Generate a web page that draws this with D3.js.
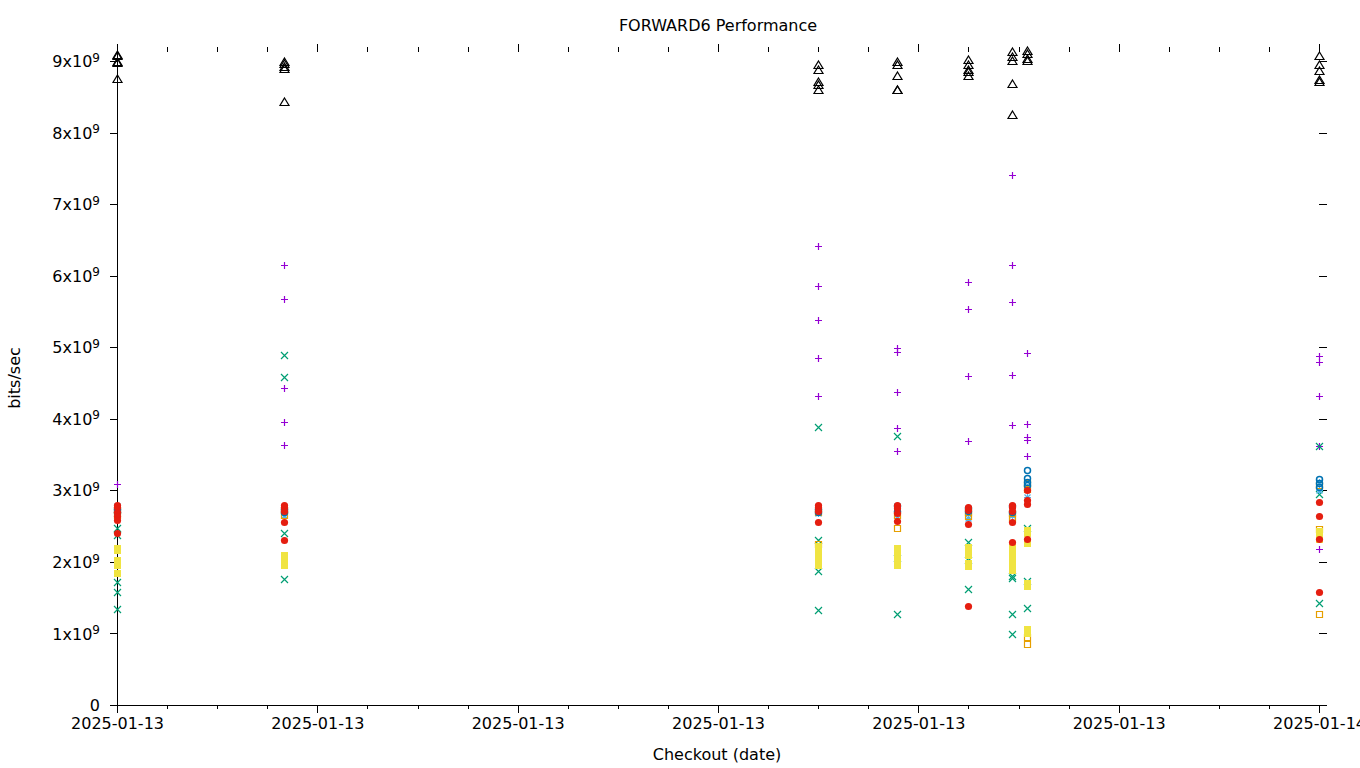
<!DOCTYPE html>
<html>
<head>
<meta charset="utf-8">
<script src="https://cdn.jsdelivr.net/npm/d3@7"></script>
<style>
  html, body { margin: 0; padding: 0; background: #ffffff; }
  svg { display: block; font-family: "DejaVu Sans", sans-serif; }
</style>
</head>
<body>
<svg id="chart" width="1360" height="768"></svg>
<script>
// ---------- DATA ----------
const checkoutTimes = [
  "2025-01-13T18:00:00", "2025-01-13T18:50:00", "2025-01-13T21:30:00", "2025-01-13T21:53:30",
  "2025-01-13T22:15:00", "2025-01-13T22:28:00", "2025-01-13T22:32:30", "2025-01-14T00:00:00"
];
// values in units of 1e9 bits/sec, one list per checkout
const purplePlus = [[3.09], [6.15, 5.67, 4.43, 3.95, 3.63], [6.41, 5.85, 5.38, 4.85, 4.32], [4.99, 4.93, 4.37, 3.87, 3.55],
  [5.91, 5.54, 4.60, 3.69], [7.40, 6.15, 5.63, 4.61, 3.91], [4.92, 3.93, 3.75, 3.70, 3.48], [4.88, 4.79, 4.32, 3.62, 2.18]];
const greenCross = [[2.47, 2.37, 1.72, 1.58, 1.34], [4.89, 4.58, 2.40, 1.76], [3.88, 2.30, 1.87, 1.33], [3.76, 2.05, 1.27],
  [2.28, 2.03, 1.62], [1.80, 1.78, 1.27, 0.99], [2.47, 1.73, 1.35], [3.62, 2.95, 1.43]];
const skyStar = [[2.78, 2.66], [2.75, 2.66], [2.76, 2.68], [2.78, 2.62], [2.72, 2.62], [2.76, 2.66], [3.05, 2.90], [3.12, 3.00]];
const orangeSquare = [[2.72, 2.65], [2.73, 2.66], [2.70, 2.25], [2.65, 2.47], [2.70, 2.64], [2.68, 2.62],
  [3.10, 3.02, 0.95, 0.85], [3.08, 2.46, 1.27]];
const yellowSquare = [[2.20, 2.16, 2.02, 1.96, 1.84], [2.10, 2.06, 2.01, 1.96], [2.22, 2.17, 2.08, 2.02, 1.96],
  [2.20, 2.13, 2.08, 2.03, 1.95], [2.21, 2.16, 2.10, 1.99, 1.94], [2.21, 2.15, 2.10, 2.05, 2.00, 1.95, 1.89],
  [2.44, 2.40, 2.26, 1.71, 1.66, 1.06, 1.01], [2.43, 2.38, 2.32]];
const blueCircle = [[2.74, 2.69], [2.74, 2.69], [2.74, 2.70], [2.78, 2.71], [2.75, 2.71], [2.78, 2.70],
  [3.28, 3.17, 3.12, 3.07], [3.16, 3.10, 3.05]];
const redDisc = [[2.80, 2.76, 2.70, 2.64, 2.58, 2.40], [2.79, 2.76, 2.71, 2.56, 2.31], [2.80, 2.76, 2.71, 2.56],
  [2.79, 2.75, 2.68, 2.57], [2.76, 2.72, 2.53, 1.38], [2.80, 2.76, 2.71, 2.56, 2.28], [3.00, 2.86, 2.81, 2.32],
  [2.84, 2.64, 2.32, 1.58]];
const blackTriangle = [[9.09, 9.07, 8.99, 8.97, 8.75], [8.99, 8.96, 8.92, 8.89, 8.43], [8.94, 8.87, 8.70, 8.67, 8.59],
  [8.99, 8.95, 8.79, 8.60, 8.59], [9.02, 8.94, 8.88, 8.84, 8.79], [9.12, 9.05, 9.00, 8.68, 8.24],
  [9.14, 9.10, 9.03, 9.00], [9.07, 8.94, 8.86, 8.73, 8.70]];
const yTickValues = [0, 1, 2, 3, 4, 5, 6, 7, 8, 9];
const xTickLabelFormat = "%Y-%m-%d";

const series = [
  { name: "purple", values: purplePlus, color: "#9400d3", shape: "plus" },
  { name: "green", values: greenCross, color: "#009e73", shape: "cross" },
  { name: "sky", values: skyStar, color: "#56b4e9", shape: "star" },
  { name: "orange", values: orangeSquare, color: "#e69f00", shape: "square" },
  { name: "yellow", values: yellowSquare, color: "#f0e442", shape: "fsquare" },
  { name: "blue", values: blueCircle, color: "#0072b2", shape: "circle" },
  { name: "red", values: redDisc, color: "#e51e10", shape: "disc" },
  { name: "black", values: blackTriangle, color: "#000000", shape: "triangle" }
];

// ---------- LAYOUT ----------
const svg = d3.select("#chart");
const plotLeft = 117, plotRight = 1319, plotTop = 52, plotBottom = 705;
const parse = d3.timeParse("%Y-%m-%dT%H:%M:%S");
const times = checkoutTimes.map(parse);

const x = d3.scaleTime().domain([times[0], times[times.length - 1]]).range([plotLeft, plotRight]);
const y = d3.scaleLinear().domain([0, 9.125]).range([plotBottom, plotTop]);

const majorTicks = d3.timeHour.every(1).range(times[0], d3.timeMinute.offset(times[times.length - 1], 1));
const minorTicks = d3.timeMinute.every(15).range(times[0], d3.timeMinute.offset(times[times.length - 1], 1))
  .filter(t => t.getMinutes() !== 0);

// ---------- AXES ----------
const axisG = svg.append("g").attr("shape-rendering", "crispEdges");

// bottom
const bx = axisG.append("g").attr("transform", `translate(0,${plotBottom})`)
  .call(d3.axisBottom(x).tickValues(majorTicks).tickSize(8).tickSizeOuter(0).tickFormat(d3.timeFormat(xTickLabelFormat)));
bx.select(".domain").attr("stroke", "#000").attr("d", `M${plotLeft},0.5H${plotRight + 1}`);
bx.selectAll("text").attr("font-size", 16).attr("fill", "#000").attr("font-family", "DejaVu Sans").attr("dy", "0.95em").attr("y", 9);
axisG.append("g").attr("transform", `translate(0,${plotBottom})`)
  .call(d3.axisBottom(x).tickValues(minorTicks).tickSize(4).tickSizeOuter(0).tickFormat(""))
  .select(".domain").remove();

// top (mirror ticks, outward)
const tx = axisG.append("g").attr("transform", `translate(0,${plotTop})`)
  .call(d3.axisTop(x).tickValues(majorTicks).tickSize(8).tickSizeOuter(0).tickFormat(""));
tx.select(".domain").remove();
axisG.append("g").attr("transform", `translate(0,${plotTop})`)
  .call(d3.axisTop(x).tickValues(minorTicks).tickSize(5).tickSizeOuter(0).tickFormat(""))
  .select(".domain").remove();

// left
const ly = axisG.append("g").attr("transform", `translate(${plotLeft},0)`)
  .call(d3.axisLeft(y).tickValues(yTickValues).tickSize(7).tickSizeOuter(0).tickFormat(""));
ly.select(".domain").attr("d", `M0.5,${plotBottom}V${plotTop - 8}`).attr("stroke", "#000");
ly.selectAll(".tick").each(function (d) {
  const t = d3.select(this).append("text").attr("x", -17).attr("dy", "0.35em")
    .attr("text-anchor", "end").attr("font-size", 16).attr("fill", "#000").attr("font-family", "DejaVu Sans");
  if (d === 0) { t.text("0"); }
  else {
    t.append("tspan").text(`${d}x10`);
    t.append("tspan").attr("dy", "-0.45em").attr("font-size", 12).text("9");
  }
});

// right (mirror ticks, outward)
axisG.append("g").attr("transform", `translate(${plotRight},0)`)
  .call(d3.axisRight(y).tickValues(yTickValues).tickSize(8).tickSizeOuter(0).tickFormat(""))
  .select(".domain").remove();

// ---------- TITLES ----------
svg.append("text").attr("x", 718).attr("y", 31).attr("text-anchor", "middle")
  .attr("font-size", 16).text("FORWARD6 Performance");
svg.append("text").attr("x", 717).attr("y", 760).attr("text-anchor", "middle")
  .attr("font-size", 16).text("Checkout (date)");
svg.append("text").attr("transform", "translate(20,378) rotate(-90)").attr("text-anchor", "middle")
  .attr("font-size", 16).text("bits/sec");

// ---------- MARKERS ----------
const shapes = {
  plus: "M-3.5,0H3.5M0,-3.5V3.5",
  cross: "M-3.5,-3.5L3.5,3.5M-3.5,3.5L3.5,-3.5",
  star: "M-3.5,0H3.5M0,-3.5V3.5M-3,-3L3,3M-3,3L3,-3",
  square: "M-3,-3H3V3H-3Z",
  fsquare: "M-3.5,-3.5H3.5V3.5H-3.5Z",
  triangle: "M0,-4.5L4.5,3L-4.5,3Z"
};
const pts = svg.append("g");
series.forEach(s => {
  const flat = [];
  s.values.forEach((vals, i) => vals.forEach(v => flat.push({ t: times[i], v })));
  const g = pts.append("g").attr("class", s.name);
  flat.forEach(p => {
    const cx = Math.round(x(p.t)) + 0.5, cy = Math.round(y(p.v)) + 0.5;
    if (s.shape === "circle") {
      g.append("circle").attr("cx", cx).attr("cy", cy).attr("r", 3)
        .attr("fill", "none").attr("stroke", s.color).attr("stroke-width", 1.5);
    } else if (s.shape === "disc") {
      g.append("circle").attr("cx", cx).attr("cy", cy).attr("r", 3.6).attr("fill", s.color);
    } else if (s.shape === "fsquare") {
      g.append("path").attr("transform", `translate(${cx},${cy})`).attr("d", shapes.fsquare).attr("fill", s.color);
    } else {
      g.append("path").attr("transform", `translate(${cx},${cy})`).attr("d", shapes[s.shape])
        .attr("fill", "none").attr("stroke", s.color).attr("stroke-width", 1.2);
    }
  });
});
</script>
</body>
</html>
